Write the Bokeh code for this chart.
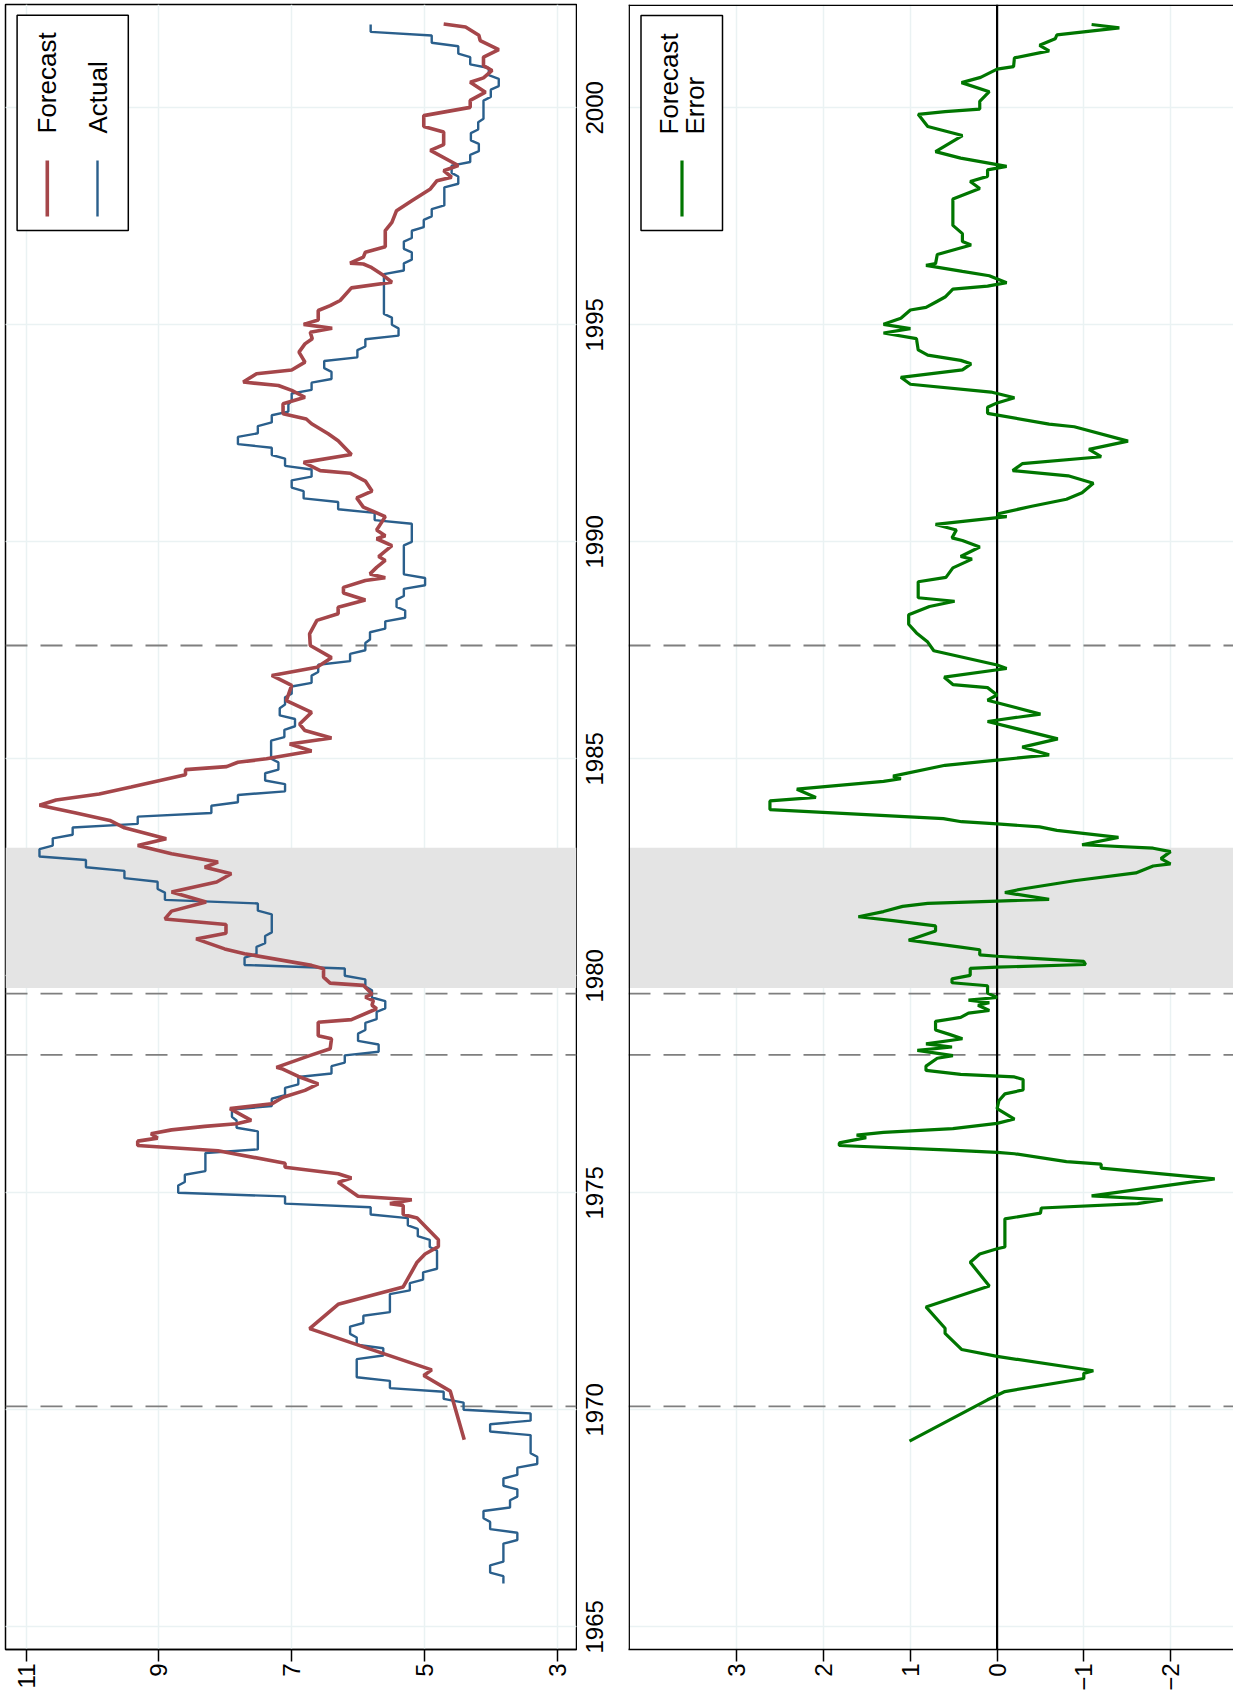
import math
from bokeh.plotting import figure
from bokeh.models import Range1d, FixedTicker, Span, Grid, BoxAnnotation, ColumnDataSource
from bokeh.layouts import row
from bokeh.embed import file_html
from bokeh.resources import INLINE
from bokeh.core.properties import value

FONT = "Liberation Sans"

# ---------------- data ----------------
# Actual: quarterly values (held constant within each quarter, monthly points), from 1966Q1
actual_start = 1966.0
actual_q = [
    3.81, 4.01, 3.81, 3.81,   # 1966
    3.60, 4.01, 4.11, 3.71,   # 1967
    3.60, 3.81, 3.60, 3.30,   # 1968
    3.40, 3.40, 4.01, 3.40,   # 1969
    4.41, 4.71, 5.52, 6.02,   # 1970
    6.02, 5.62, 6.02, 6.12,   # 1971
    5.92, 5.52, 5.52, 5.22,   # 1972
    5.02, 4.81, 4.81, 4.92,   # 1973
    5.10, 5.25, 5.81, 7.10,   # 1974
    8.71, 8.61, 8.30, 8.30,   # 1975
    7.51, 7.51, 7.83, 7.90,   # 1976
    7.30, 7.10, 6.90, 6.40,   # 1977
    6.20, 5.69, 6.00, 5.89,   # 1978
    5.72, 5.59, 5.79, 5.89,   # 1979
    6.20, 7.71, 7.53, 7.40,   # 1980
    7.30, 7.30, 7.51, 8.91,   # 1981
    9.02, 9.52, 10.10, 10.80, # 1982
    10.60, 10.30, 9.32, 8.21, # 1983
    7.81, 7.10, 7.40, 7.20,   # 1984
    7.31, 7.31, 7.11, 6.95,   # 1985
    7.18, 7.10, 7.00, 6.70,   # 1986
    6.60, 6.12, 5.89, 5.82,   # 1987
    5.59, 5.29, 5.42, 5.31,   # 1988
    4.99, 5.31, 5.31, 5.31,   # 1989
    5.19, 5.19, 5.75, 6.30,   # 1990
    6.82, 7.00, 6.70, 7.10,   # 1991
    7.30, 7.81, 7.51, 7.30,   # 1992
    7.05, 7.00, 6.70, 6.40,   # 1993
    6.51, 6.01, 5.89, 5.39,   # 1994
    5.49, 5.61, 5.61, 5.61,   # 1995
    5.61, 5.31, 5.19, 5.31,   # 1996
    5.19, 5.01, 4.89, 4.70,   # 1997
    4.70, 4.49, 4.59, 4.31,   # 1998
    4.18, 4.30, 4.19, 4.11,   # 1999
    4.11, 4.00, 3.88, 4.03,   # 2000
    4.31, 4.49, 4.89, 5.81,   # 2001
]

forecast_t = [
    1969.31, 1970.43, 1970.79, 1970.92, 1971.87, 1972.43, 1972.83, 1973.40, 1973.59, 1973.76,
    1973.92, 1974.42, 1974.50, 1974.71, 1974.75, 1974.84, 1974.92, 1975.24, 1975.34, 1975.44,
    1975.59, 1975.68, 1975.97, 1976.09, 1976.19, 1976.26, 1976.36, 1976.45, 1976.53, 1976.59,
    1976.67, 1976.94, 1977.05, 1977.20, 1977.36, 1977.51, 1977.68, 1977.86, 1977.89, 1978.16,
    1978.32, 1978.55, 1978.62, 1978.93, 1978.99, 1979.24, 1979.32, 1979.43, 1979.51, 1979.58,
    1979.78, 1979.83, 1979.97, 1980.16, 1980.24, 1980.51, 1980.62, 1980.85, 1980.98, 1981.18,
    1981.31, 1981.49, 1981.70, 1981.93, 1982.16, 1982.35, 1982.50, 1982.62, 1982.81, 1983.00,
    1983.16, 1983.41, 1983.58, 1983.75, 1983.93, 1984.05, 1984.19, 1984.35, 1984.63, 1984.75,
    1984.82, 1984.92, 1985.00, 1985.18, 1985.34, 1985.48, 1985.65, 1985.80, 1986.07, 1986.34,
    1986.69, 1986.92, 1987.11, 1987.33, 1987.61, 1987.88, 1988.19, 1988.34, 1988.49, 1988.66,
    1988.82, 1988.95, 1989.11, 1989.17, 1989.26, 1989.41, 1989.57, 1989.66, 1989.91, 1990.07,
    1990.14, 1990.27, 1990.58, 1990.80, 1991.01, 1991.17, 1991.40, 1991.58, 1991.64, 1991.83,
    1992.01, 1992.33, 1992.49, 1992.72, 1992.83, 1992.95, 1993.18, 1993.33, 1993.49, 1993.60,
    1993.68, 1993.87, 1993.96, 1994.14, 1994.37, 1994.56, 1994.68, 1994.83, 1994.92, 1995.01,
    1995.11, 1995.33, 1995.44, 1995.56, 1995.85, 1995.98, 1996.14, 1996.33, 1996.40, 1996.42,
    1996.56, 1996.67, 1996.80, 1997.17, 1997.36, 1997.63, 1997.86, 1998.13, 1998.32, 1998.40,
    1998.55, 1998.67, 1999.02, 1999.15, 1999.44, 1999.57, 1999.82, 2000.01, 2000.17, 2000.36,
    2000.59, 2000.69, 2000.86, 2000.97, 2001.17, 2001.34, 2001.55, 2001.67, 2001.86, 2001.93,
]
forecast_v = [
    4.40, 4.61, 5.01, 4.89, 6.73, 6.30, 5.32, 5.11, 4.99, 4.79,
    4.79, 5.11, 5.32, 5.32, 5.52, 5.19, 6.00, 6.30, 6.10, 6.30,
    7.10, 7.10, 8.11, 9.32, 9.32, 9.02, 9.12, 8.81, 8.31, 7.83,
    7.61, 7.93, 7.30, 7.13, 6.80, 6.60, 6.90, 7.15, 7.23, 6.73,
    6.42, 6.40, 6.60, 6.60, 6.10, 5.72, 5.79, 5.77, 5.89, 5.79,
    5.92, 6.42, 6.52, 6.52, 6.70, 7.71, 8.01, 8.44, 7.99, 7.99,
    8.91, 8.81, 8.29, 8.81, 8.13, 7.91, 8.31, 8.11, 8.81, 9.32,
    8.89, 9.52, 9.74, 10.25, 10.80, 10.55, 9.90, 9.42, 8.60, 8.60,
    7.98, 7.81, 7.38, 6.70, 7.03, 6.40, 6.80, 6.88, 6.70, 7.08,
    7.00, 7.30, 6.62, 6.40, 6.72, 6.73, 6.62, 6.30, 6.30, 5.89,
    6.22, 6.22, 5.89, 5.59, 5.82, 5.72, 5.59, 5.69, 5.49, 5.72,
    5.59, 5.72, 5.59, 5.92, 6.02, 5.79, 5.89, 6.12, 6.57, 6.82,
    6.10, 6.30, 6.45, 6.70, 6.78, 7.13, 7.13, 6.80, 7.00, 7.20,
    7.73, 7.53, 7.00, 6.80, 6.89, 6.80, 6.69, 6.72, 6.39, 6.82,
    6.60, 6.60, 6.42, 6.27, 6.10, 5.49, 5.62, 5.81, 5.92, 6.12,
    5.92, 5.89, 5.59, 5.59, 5.49, 5.42, 5.19, 4.91, 4.81, 4.59,
    4.71, 4.49, 4.91, 4.71, 4.71, 5.01, 5.01, 4.31, 4.31, 4.08,
    4.31, 4.11, 3.98, 4.11, 4.11, 3.88, 4.16, 4.18, 4.38, 4.71,
]

error_t = [
    1969.28, 1970.23, 1970.42, 1970.72, 1970.84, 1970.90, 1971.23, 1971.39, 1971.76, 1971.88,
    1972.37, 1972.85, 1973.40, 1973.59, 1973.71, 1973.75, 1974.40, 1974.53, 1974.65, 1974.75,
    1974.84, 1974.93, 1975.32, 1975.57, 1975.66, 1975.72, 1975.90, 1975.93, 1975.99, 1976.09,
    1976.15, 1976.27, 1976.33, 1976.39, 1976.48, 1976.60, 1976.70, 1976.94, 1977.12, 1977.28,
    1977.37, 1977.61, 1977.67, 1977.73, 1977.82, 1977.92, 1978.10, 1978.16, 1978.28, 1978.36,
    1978.43, 1978.55, 1978.65, 1978.75, 1978.95, 1979.04, 1979.14, 1979.20, 1979.32, 1979.38,
    1979.44, 1979.50, 1979.60, 1979.77, 1979.84, 1979.93, 1980.01, 1980.17, 1980.20, 1980.26,
    1980.33, 1980.45, 1980.48, 1980.60, 1980.66, 1980.82, 1981.03, 1981.15, 1981.27, 1981.36,
    1981.48, 1981.60, 1981.67, 1981.72, 1981.76, 1981.92, 1982.00, 1982.19, 1982.37, 1982.53,
    1982.58, 1982.70, 1982.86, 1982.94, 1983.02, 1983.19, 1983.35, 1983.43, 1983.50, 1983.55,
    1983.62, 1983.83, 1984.03, 1984.11, 1984.30, 1984.48, 1984.54, 1984.60, 1984.85, 1984.97,
    1985.09, 1985.27, 1985.46, 1985.86, 1986.03, 1986.35, 1986.47, 1986.64, 1986.71, 1986.88,
    1987.08, 1987.16, 1987.49, 1987.69, 1987.90, 1988.10, 1988.32, 1988.51, 1988.63, 1988.71,
    1989.08, 1989.18, 1989.40, 1989.60, 1989.66, 1989.88, 1990.03, 1990.09, 1990.27, 1990.40,
    1990.58, 1990.64, 1990.82, 1990.98, 1991.13, 1991.35, 1991.52, 1991.64, 1991.80, 1991.96,
    1992.13, 1992.32, 1992.65, 1992.71, 1992.96, 1993.10, 1993.20, 1993.32, 1993.45, 1993.63,
    1993.79, 1993.96, 1994.10, 1994.18, 1994.30, 1994.42, 1994.68, 1994.81, 1994.91, 1995.01,
    1995.15, 1995.34, 1995.40, 1995.52, 1995.64, 1995.82, 1995.89, 1995.97, 1996.13, 1996.23,
    1996.37, 1996.41, 1996.62, 1996.84, 1996.92, 1997.10, 1997.29, 1997.90, 1998.14, 1998.30,
    1998.42, 1998.57, 1998.65, 1998.69, 1998.84, 1998.99, 1999.36, 1999.57, 1999.85, 1999.91,
    1999.97, 2000.15, 2000.37, 2000.58, 2000.70, 2000.89, 2000.95, 2001.15, 2001.31, 2001.44,
    2001.59, 2001.68, 2001.84, 2001.92,
]
error_v = [
    1.01, 0.11, -0.09, -1.00, -1.00, -1.11, 0.00, 0.41, 0.60, 0.60,
    0.82, 0.09, 0.31, 0.20, 0.00, -0.09, -0.09, -0.50, -0.51, -1.62,
    -1.91, -1.09, -2.51, -1.20, -1.20, -0.80, -0.20, 0.00, 0.60, 1.82,
    1.82, 1.51, 1.62, 1.31, 0.51, 0.00, -0.20, 0.00, -0.02, -0.09,
    -0.30, -0.30, -0.20, 0.42, 0.82, 0.82, 0.69, 0.51, 0.92, 0.52,
    0.82, 0.40, 0.55, 0.71, 0.71, 0.42, 0.33, 0.09, 0.22, 0.09,
    0.33, 0.00, 0.11, 0.11, 0.52, 0.52, 0.31, 0.31, 0.00, -1.02,
    -1.00, 0.00, 0.20, 0.20, 0.42, 1.02, 0.71, 0.71, 1.20, 1.60,
    1.31, 1.09, 0.80, 0.00, -0.60, -0.09, -0.29, -0.89, -1.60, -1.80,
    -2.00, -1.89, -2.00, -1.80, -0.98, -1.40, -0.69, -0.49, 0.00, 0.41,
    0.62, 2.62, 2.62, 2.09, 2.31, 1.31, 1.11, 1.20, 0.60, 0.00,
    -0.60, -0.29, -0.70, 0.11, -0.50, 0.11, 0.00, 0.11, 0.51, 0.61,
    -0.11, 0.00, 0.73, 0.80, 0.93, 1.02, 1.02, 0.78, 0.49, 0.91,
    0.91, 0.59, 0.51, 0.29, 0.42, 0.20, 0.40, 0.52, 0.47, 0.71,
    -0.11, 0.00, -0.40, -0.80, -0.98, -1.11, -0.82, -0.18, -0.29, -1.20,
    -1.06, -1.51, -0.89, -0.60, 0.11, 0.11, 0.00, -0.20, 0.07, 1.00,
    1.11, 0.40, 0.30, 0.42, 0.80, 0.91, 0.93, 1.31, 1.00, 1.31,
    1.11, 1.00, 0.82, 0.71, 0.60, 0.51, 0.11, -0.11, 0.09, 0.40,
    0.82, 0.71, 0.69, 0.30, 0.40, 0.40, 0.51, 0.51, 0.20, 0.31,
    0.11, 0.11, -0.11, 0.00, 0.42, 0.71, 0.40, 0.80, 0.91, 0.60,
    0.20, 0.20, 0.09, 0.41, 0.19, 0.00, -0.19, -0.20, -0.60, -0.49,
    -0.67, -0.69, -1.41, -1.09,
]

chair_dates = [1970.08, 1978.18, 1979.59, 1987.61]
shade_start, shade_end = 1979.72, 1982.95
year_ticks = [1965, 1970, 1975, 1980, 1985, 1990, 1995, 2000]
level_ticks = [3, 5, 7, 9, 11]
error_ticks = [-2, -1, 0, 1, 2, 3]

RED = "#A5464A"
BLUE = "#2A5F8C"
GREEN = "#007600"
GRIDC = "#EAF2F3"
DASHC = "#7F7F7F"

# ---------------- geometry (page px; page margin is 0) ----------------
H = 1700
W1, W2 = 577, 656
TOP_B, BOT_B = 4, 51
PX_YEAR = 43.4
T_TOP = 2002.380
T_BOT = T_TOP - (H - TOP_B - BOT_B) / PX_YEAR
V_LEFT = 11.3119
V_RIGHT = V_LEFT - (W1 - 5 - 1) / 66.37
E_LEFT = 4.2514
E_RIGHT = E_LEFT - (W2 - 51) / 86.7


def lx(px):  # page px -> level value (left panel)
    return V_LEFT - (px - 5) / 66.37


def rx(px):  # page px -> error value (right panel)
    return E_LEFT - (px - 628) / 86.7


def ty(py):  # page px -> year
    return T_TOP - (py - TOP_B) / PX_YEAR


def base_fig(width, xr, yloc, **kw):
    p = figure(width=width, height=H, x_range=xr, y_range=Range1d(T_BOT, T_TOP),
               output_backend="svg", toolbar_location=None, tools="",
               y_axis_location=yloc,
               min_border_top=TOP_B, min_border_bottom=BOT_B, **kw)
    p.background_fill_color = "white"
    p.border_fill_color = "white"
    if yloc is not None:
        p.ygrid.grid_line_color = None
    return p


def style_xaxis(ax, ticks):
    ax.ticker = FixedTicker(ticks=ticks)
    ax.major_label_orientation = math.pi / 2
    ax.major_label_text_font = FONT
    ax.major_label_text_font_size = "24px"
    ax.major_label_text_color = "black"
    ax.major_tick_in = 0
    ax.major_tick_out = 12
    ax.major_tick_line_width = 1.5
    ax.major_tick_line_color = "black"
    ax.minor_tick_line_color = None
    ax.axis_line_color = "black"
    ax.axis_line_width = 1.5
    ax.major_label_standoff = 2


def add_common(p):
    p.xgrid.grid_line_color = GRIDC
    p.xgrid.grid_line_width = 1.5
    p.add_layout(Grid(dimension=1, ticker=FixedTicker(ticks=year_ticks),
                      grid_line_color=GRIDC, grid_line_width=1.5))
    p.add_layout(BoxAnnotation(bottom=shade_start, top=shade_end, fill_color="#E4E4E4",
                               fill_alpha=1.0, line_color=None, level="underlay"))
    for d in chair_dates:
        p.add_layout(Span(location=d, dimension="width", line_color=DASHC, line_width=1.8,
                          line_dash="22 13", level="underlay"))


def rotated_text(p, xs, ys, texts, size):
    src = ColumnDataSource(dict(x=xs, y=ys, t=texts))
    p.text(x="x", y="y", text="t", source=src, angle=math.pi / 2, text_align="left",
           text_baseline="middle", text_font=value(FONT), text_font_size=size,
           text_color="black")


# ---------------- left panel: forecast & actual ----------------
p1 = base_fig(W1, Range1d(V_LEFT, V_RIGHT), None, min_border_left=5, min_border_right=1)
p1.outline_line_color = "black"
p1.outline_line_width = 1.5
style_xaxis(p1.xaxis[0], level_ticks)
add_common(p1)

at, av = [], []
for i, q in enumerate(actual_q):
    t0 = actual_start + i / 4.0
    for m in range(3):
        at.append(t0 + m / 12.0)
        av.append(q)
p1.line(x=av, y=at, line_color=BLUE, line_width=2.4)
p1.line(x=forecast_v, y=forecast_t, line_color=RED, line_width=3.6)

# legend (left)
p1.quad(left=[lx(16.6)], right=[lx(127.8)], top=[ty(14.7)], bottom=[ty(230)],
        fill_color="white", line_color="black", line_width=1.5)
rotated_text(p1, [lx(46.8), lx(97)], [ty(133), ty(133)], ["Forecast", "Actual"], "26px")
p1.segment(x0=[lx(46.8)], y0=[ty(160)], x1=[lx(46.8)], y1=[ty(216)], line_color=RED, line_width=3.6)
p1.segment(x0=[lx(97)], y0=[ty(160)], x1=[lx(97)], y1=[ty(216)], line_color=BLUE, line_width=2.4)

# ---------------- right panel: forecast error (year labels sit between the panels) ----------------
p2 = base_fig(W2, Range1d(E_LEFT, E_RIGHT), "left", min_border_left=51, min_border_right=0)
p2.outline_line_color = None
style_xaxis(p2.xaxis[0], error_ticks)

ya = p2.yaxis[0]
ya.ticker = FixedTicker(ticks=year_ticks)
ya.major_label_orientation = "vertical"
ya.major_label_text_font = FONT
ya.major_label_text_font_size = "24px"
ya.major_label_text_color = "black"
ya.major_tick_in = 0
ya.major_tick_out = 0
ya.major_tick_line_color = None
ya.minor_tick_line_color = None
ya.axis_line_color = None
ya.major_label_standoff = 25

add_common(p2)
p2.add_layout(Span(location=0, dimension="height", line_color="black", line_width=2.2,
                   level="underlay"))
p2.add_layout(Span(location=E_LEFT - 0.008, dimension="height", line_color="black", line_width=1.5))
p2.add_layout(Span(location=T_TOP - 0.016, dimension="width", line_color="black", line_width=1.5))
p2.line(x=error_v, y=error_t, line_color=GREEN, line_width=3.2)

# legend (right)
p2.quad(left=[rx(640.5)], right=[rx(722)], top=[ty(15)], bottom=[ty(230)],
        fill_color="white", line_color="black", line_width=1.5)
rotated_text(p2, [rx(668), rx(694)], [ty(134), ty(134)], ["Forecast", "Error"], "26px")
p2.segment(x0=[rx(681.5)], y0=[ty(160)], x1=[rx(681.5)], y1=[ty(216)], line_color=GREEN, line_width=3.2)

layout = row(p1, p2)
open("out.html", "w").write(file_html(layout, INLINE))
